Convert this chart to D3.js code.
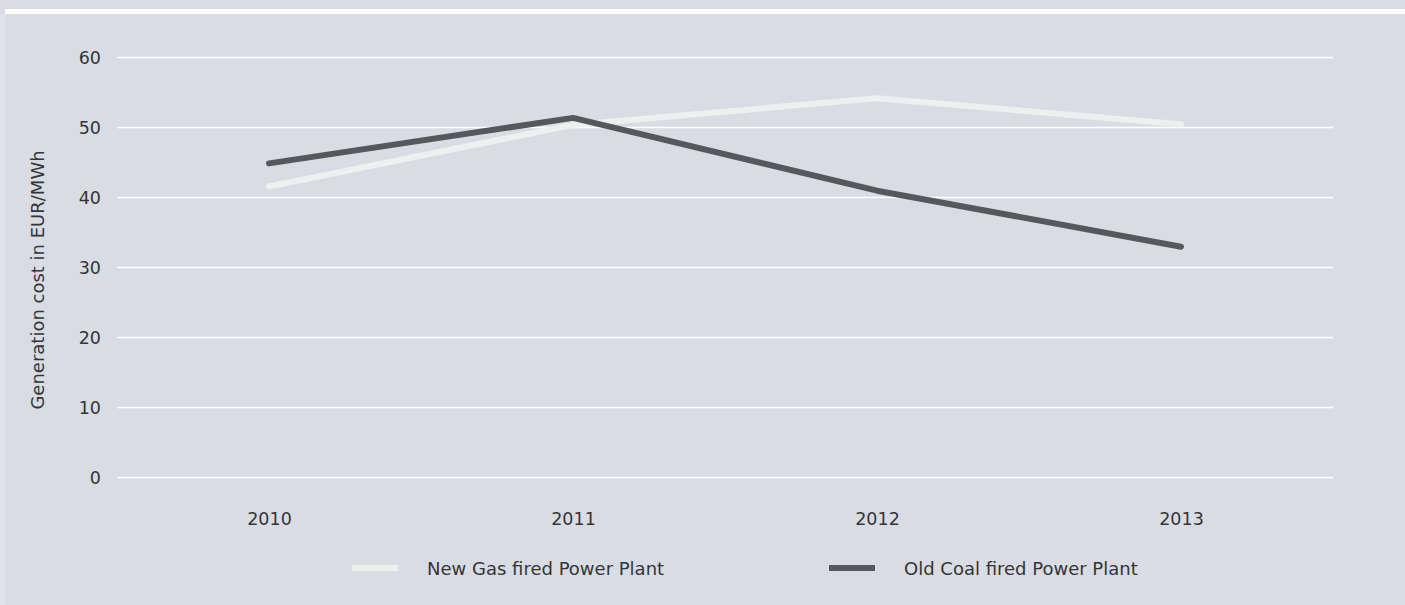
<!DOCTYPE html>
<html>
<head>
<meta charset="utf-8">
<script src="https://cdn.jsdelivr.net/npm/d3@7"></script>
<style>
  html, body { margin: 0; padding: 0; background: #d9dce3; }
  svg { display: block; }
  text { font-family: "DejaVu Sans", "Open Sans", sans-serif; fill: #333538; }
</style>
</head>
<body>
<svg id="chart" width="1405" height="605"></svg>
<script>
const years = ["2010", "2011", "2012", "2013"];
const gasValues = [41.5, 50.3, 54.1, 50.4];
const coalValues = [44.8, 51.3, 40.9, 32.9];
const yTicks = [0, 10, 20, 30, 40, 50, 60];
const seriesNames = ["New Gas fired Power Plant", "Old Coal fired Power Plant"];
const seriesColors = ["#eeefef", "#56595c"];
const yTitle = "Generation cost in EUR/MWh";

const svg = d3.select("#chart");
const W = 1405, H = 605;
const FONT = '"DejaVu Sans", "Open Sans", sans-serif';

// background
svg.append("rect").attr("x", 0).attr("y", 0).attr("width", W).attr("height", H).attr("fill", "#d9dce3");
svg.append("rect").attr("x", 0).attr("y", 14).attr("width", 5).attr("height", H - 14).attr("fill", "#e1e3e8");
svg.append("rect").attr("x", 5).attr("y", 9).attr("width", W - 5).attr("height", 5).attr("fill", "#ffffff");

const mLeft = 117, mRight = 1333, mTop = 57, mBottom = 477;

const x = d3.scalePoint().domain(years).range([mLeft, mRight]).padding(0.5);
const y = d3.scaleLinear().domain([0, 60]).range([mBottom, mTop]);

// grid + y ticks
const yAxis = d3.axisLeft(y).tickValues(yTicks).tickSize(-(mRight - mLeft)).tickPadding(16);
const gy = svg.append("g").attr("transform", `translate(${mLeft},0)`).call(yAxis);
gy.select(".domain").remove();
gy.selectAll(".tick line").attr("stroke", "#ffffff").attr("stroke-width", 1.5);
gy.selectAll(".tick text").attr("font-size", 17.5).attr("fill", "#333538").attr("dy", "0.36em")
  .style("font-family", FONT);

// x ticks
const xAxis = d3.axisBottom(x).tickSize(0).tickPadding(0);
const gx = svg.append("g").attr("transform", `translate(0,${mBottom})`).call(xAxis);
gx.select(".domain").remove();
gx.selectAll(".tick text").attr("font-size", 17.5).attr("fill", "#333538").attr("dy", 0).attr("y", 48)
  .style("font-family", FONT);

// y title
svg.append("text")
  .attr("transform", `translate(44,280) rotate(-90)`)
  .attr("text-anchor", "middle")
  .attr("font-size", 18)
  .text(yTitle);

// lines
const line = d3.line().x((d, i) => x(years[i])).y(d => y(d));
[gasValues, coalValues].forEach((vals, k) => {
  svg.append("path")
    .datum(vals)
    .attr("d", line)
    .attr("fill", "none")
    .attr("stroke", seriesColors[k])
    .attr("stroke-width", 6)
    .attr("stroke-linecap", "round")
    .attr("stroke-linejoin", "round");
});

// legend
const legendX = [352, 829];
seriesNames.forEach((name, k) => {
  svg.append("rect")
    .attr("x", legendX[k]).attr("y", 565).attr("width", 46).attr("height", 6)
    .attr("fill", seriesColors[k]);
  svg.append("text")
    .attr("x", legendX[k] + 75).attr("y", 575)
    .attr("font-size", 18)
    .text(name);
});
</script>
</body>
</html>
